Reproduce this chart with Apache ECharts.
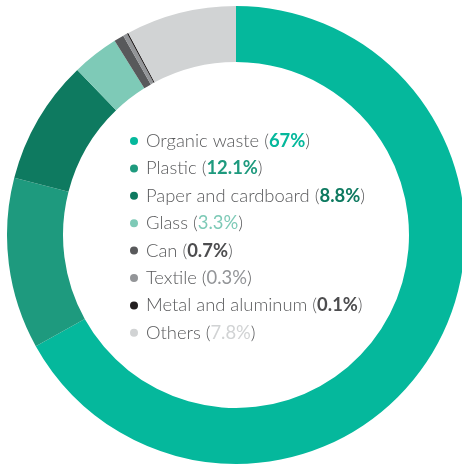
<!DOCTYPE html>
<html>
<head>
<meta charset="utf-8">
<script src="https://cdn.jsdelivr.net/npm/echarts@6/dist/echarts.min.js"></script>
<style>
  html, body { margin: 0; padding: 0; background: #ffffff; }
  #chart { width: 462px; height: 464px; }
</style>
</head>
<body>
<div id="chart"></div>
<script>
// Waste composition by share of total (%)
const categories = ['Organic waste', 'Plastic', 'Paper and cardboard', 'Glass', 'Can', 'Textile', 'Metal and aluminum', 'Others'];
const shares = [67, 12.1, 8.8, 3.3, 0.7, 0.3, 0.1, 7.8];
const shareLabels = ['67%', '12.1%', '8.8%', '3.3%', '0.7%', '0.3%', '0.1%', '7.8%'];

const sliceColors = ['#05b89c', '#1e9a7e', '#0e7a60', '#7ecab7', '#58595b', '#939598', '#231f20', '#d1d3d4'];
const valueColors = ['#05b89c', '#1e9a7e', '#0e7a60', '#7ecab7', '#4d4d4f', '#939598', '#4d4d4f', '#d1d3d4'];
const valueWeights = ['bold', 'bold', 'bold', 'normal', 'bold', 'normal', 'bold', 'normal'];

const FONT = 18.4;
const rich = {
  n: { color: '#58595b', fontFamily: 'Lato', fontSize: FONT, fontWeight: 300, lineHeight: 20 }
};
valueColors.forEach((c, i) => {
  rich['v' + i] = { color: c, fontFamily: 'Lato', fontSize: FONT, fontWeight: valueWeights[i], lineHeight: 20 };
});

const chart = echarts.init(document.getElementById('chart'), null, { renderer: 'canvas' });
chart.setOption({
  animation: false,
  backgroundColor: '#ffffff',
  color: sliceColors,
  legend: {
    orient: 'vertical',
    left: 130,
    top: 131,
    padding: 0,
    itemWidth: 8,
    itemHeight: 8,
    itemGap: 7.4,
    icon: 'circle',
    selectedMode: false,
    data: categories,
    textStyle: { padding: [0, 0, 0, 3], fontSize: FONT, lineHeight: 20, rich: rich },
    formatter: function (name) {
      const i = categories.indexOf(name);
      return '{n|' + name + ' (}{v' + i + '|' + shareLabels[i] + '}{n|)}';
    }
  },
  series: [{
    type: 'pie',
    center: [236, 235],
    radius: [173, 229],
    startAngle: 90,
    clockwise: true,
    silent: true,
    label: { show: false },
    labelLine: { show: false },
    emphasis: { disabled: true },
    itemStyle: { borderWidth: 0 },
    data: categories.map((name, i) => ({ name: name, value: shares[i] }))
  }]
});
</script>
</body>
</html>
